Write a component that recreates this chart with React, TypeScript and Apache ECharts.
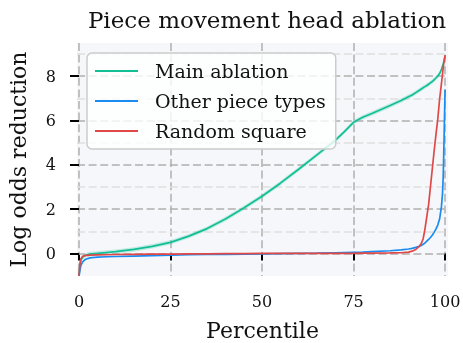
import React, { useEffect, useRef } from 'react';
import * as echarts from 'echarts';

const PERCENTILES = [0, 0.2, 0.5, 1, 1.5, 2, 3, 5, 7.5, 10, 15, 20, 25, 30, 35, 40, 45, 50, 55, 60, 65, 70, 72.5, 75, 77.5, 80, 85, 88, 90, 91, 92, 93, 93.5, 94, 94.5, 95, 95.5, 96, 96.5, 97, 97.5, 98, 98.5, 99, 99.3, 99.5, 99.6, 99.8, 100];

const MAIN_ABLATION = [-1.02, -0.6, -0.3, -0.17, -0.11, -0.07, -0.03, 0.0, 0.04, 0.08, 0.18, 0.32, 0.5, 0.78, 1.12, 1.55, 2.05, 2.58, 3.17, 3.8, 4.45, 5.1, 5.5, 5.92, 6.15, 6.32, 6.68, 6.9, 7.07, 7.15, 7.26, 7.37, 7.42, 7.48, 7.53, 7.58, 7.64, 7.7, 7.76, 7.84, 7.92, 8.0, 8.12, 8.3, 8.45, 8.55, 8.62, 8.75, 8.9];

const OTHER_PIECE_TYPES = [-1.02, -0.8, -0.55, -0.38, -0.3, -0.25, -0.2, -0.17, -0.15, -0.14, -0.12, -0.1, -0.08, -0.06, -0.05, -0.04, -0.03, -0.02, -0.01, 0.0, 0.01, 0.03, 0.04, 0.05, 0.06, 0.08, 0.12, 0.16, 0.2, 0.23, 0.27, 0.32, 0.36, 0.41, 0.47, 0.55, 0.63, 0.72, 0.82, 0.95, 1.1, 1.28, 1.55, 2.1, 2.7, 3.5, 4.2, 5.8, 7.4];

const RANDOM_SQUARE = [-1.02, -0.55, -0.25, -0.13, -0.1, -0.09, -0.08, -0.07, -0.06, -0.05, -0.04, -0.03, -0.03, -0.02, -0.02, -0.01, -0.01, 0.0, 0.0, 0.0, 0.0, 0.0, 0.0, 0.0, 0.01, 0.01, 0.02, 0.03, 0.06, 0.1, 0.18, 0.33, 0.45, 0.65, 1.1, 1.65, 2.2, 3.0, 3.8, 4.6, 5.35, 6.05, 6.95, 7.65, 8.1, 8.4, 8.55, 8.75, 8.95];

const MAIN_CI_HALF = 0.1;

const X_TICKS = [0, 25, 50, 75, 100];
const Y_MAJOR = [0, 2, 4, 6, 8];
const Y_MINOR = [1, 3, 5, 7, 9];

const FONT = 'DejaVu Serif';
const GREEN = '#12bf94';
const BLUE = '#1a8cf0';
const RED = '#e04848';

export default function App() {
  const ref = useRef<HTMLDivElement>(null);
  useEffect(() => {
    const chart = echarts.init(ref.current!, null, { renderer: 'svg' });
    const pair = (ys: number[]) => PERCENTILES.map((p, i) => [p, ys[i]]);
    const majorDash = { color: '#b0b0b0', width: 1.5, type: [8, 3.6] as any };
    const minorDash = { color: '#e0e0e0', width: 1.5, type: [8, 3.6] as any };
    chart.setOption({
      animation: false,
      title: {
        text: 'Piece movement head ablation',
        left: 262,
        textAlign: 'center',
        top: 3,
        textStyle: { fontFamily: FONT, fontSize: 23, fontWeight: 'normal', color: '#111' },
      },
      grid: {
        left: 77,
        right: 15,
        top: 43,
        bottom: 67,
        show: true,
        backgroundColor: '#f5f7fa',
        borderWidth: 0,
        containLabel: false,
        outerBoundsMode: 'none',
      },
      legend: {
        data: ['Main ablation', 'Other piece types', 'Random square'],
        orient: 'vertical',
        left: 87,
        top: 53,
        padding: [8, 10, 8, 8],
        icon: 'rect',
        itemWidth: 43,
        itemHeight: 2,
        itemGap: 10,
        backgroundColor: 'rgba(255,255,255,0.8)',
        borderColor: '#cccccc',
        borderWidth: 1.5,
        borderRadius: 5,
        textStyle: { fontFamily: FONT, fontSize: 19, color: '#111', lineHeight: 20, padding: [0, 0, 0, 12] },
      },
      xAxis: {
        type: 'value',
        min: -0.55,
        max: 100.8,
        axisLine: { show: false },
        axisTick: { show: true, length: 7, lineStyle: { color: '#000', width: 2 }, customValues: X_TICKS },
        axisLabel: { customValues: X_TICKS, fontFamily: FONT, fontSize: 16, color: '#111', margin: 17 },
        splitLine: { show: true, lineStyle: majorDash },
        name: 'Percentile',
        nameLocation: 'middle',
        nameGap: 43,
        nameTextStyle: { fontFamily: FONT, fontSize: 22, color: '#111' },
      },
      yAxis: [
        {
          type: 'value',
          min: -1.02,
          max: 9.5,
          axisLine: { show: false },
          axisTick: { show: true, length: 9, lineStyle: { color: '#000', width: 2 }, customValues: Y_MAJOR },
          axisLabel: { customValues: Y_MAJOR, fontFamily: FONT, fontSize: 16, color: '#111', margin: 21 },
          splitLine: { show: true, lineStyle: majorDash },
          name: 'Log odds reduction',
          nameLocation: 'middle',
          nameGap: 48,
          nameTextStyle: { fontFamily: FONT, fontSize: 22, color: '#111' },
          z: 2,
        },
        {
          type: 'value',
          min: -1.02,
          max: 9.5,
          position: 'left',
          axisLine: { show: false },
          axisTick: { show: false, customValues: Y_MINOR },
          axisLabel: { show: false, customValues: Y_MINOR },
          splitLine: { show: true, lineStyle: minorDash },
          z: 1,
        },
      ],
      series: [
        {
          name: 'ci-band',
          type: 'custom',
          data: pair(MAIN_ABLATION),
          encode: { x: 0, y: 1 },
          clip: true,
          silent: true,
          z: 1,
          renderItem: (params: any, api: any) => {
            if (params.dataIndex !== 0) return null;
            const upper = PERCENTILES.map((p, i) => api.coord([p, MAIN_ABLATION[i] + MAIN_CI_HALF]));
            const lower = PERCENTILES.map((p, i) => api.coord([p, MAIN_ABLATION[i] - MAIN_CI_HALF])).reverse();
            return {
              type: 'polygon',
              shape: { points: upper.concat(lower) },
              style: { fill: 'rgba(18,191,148,0.22)' },
            };
          },
        },
        {
          name: 'Main ablation',
          type: 'line',
          data: pair(MAIN_ABLATION),
          symbol: 'none',
          color: GREEN,
          z: 3,
          lineStyle: { width: 1.7, color: GREEN },
        },
        {
          name: 'Other piece types',
          type: 'line',
          data: pair(OTHER_PIECE_TYPES),
          symbol: 'none',
          color: BLUE,
          z: 3,
          lineStyle: { width: 1.7, color: BLUE },
        },
        {
          name: 'Random square',
          type: 'line',
          data: pair(RANDOM_SQUARE),
          symbol: 'none',
          color: RED,
          z: 3,
          lineStyle: { width: 1.7, color: RED },
        },
      ],
    });
    return () => chart.dispose();
  }, []);
  return <div ref={ref} style={{ position: 'fixed', left: 0, top: 0, width: 463, height: 343 }} />;
}
